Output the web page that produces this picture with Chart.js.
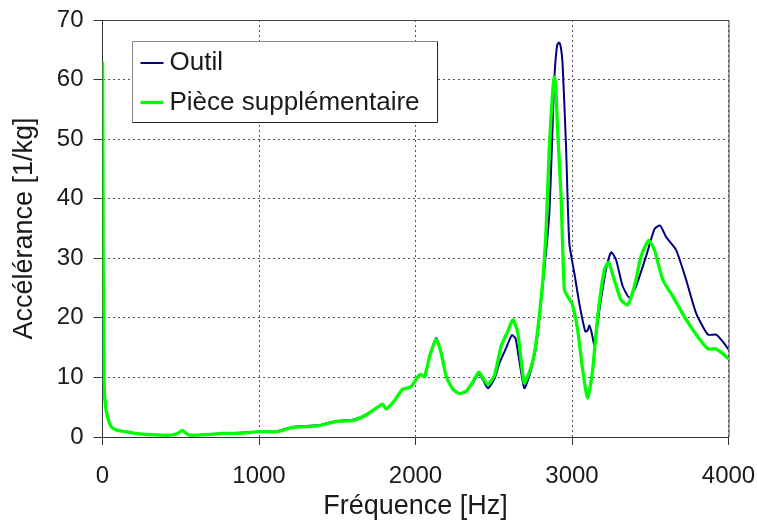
<!DOCTYPE html>
<html>
<head>
<meta charset="utf-8">
<script src="https://cdn.jsdelivr.net/npm/chart.js@4/dist/chart.umd.min.js"></script>
<style>
  html, body { margin: 0; padding: 0; background: #fff; }
  #wrap { width: 757px; height: 523px; }
</style>
</head>
<body>
<div id="wrap"><canvas id="chart"></canvas></div>
<script>
// Fréquence [Hz] / accélérance [1/kg] pour les deux montages
const outilFreq = [0, 4, 10, 20, 32, 50, 64, 96, 150, 213, 300, 430, 480, 511, 535, 554, 660, 767, 873, 1000, 1120, 1215, 1385, 1490, 1600, 1685, 1768, 1790, 1812, 1853, 1876, 1917, 1970, 2002, 2024, 2040, 2058, 2090, 2132, 2164, 2196, 2239, 2281, 2324, 2367, 2405, 2431, 2463, 2505, 2535, 2580, 2616, 2640, 2695, 2730, 2770, 2812, 2855, 2887, 2905, 2919, 2930, 2940, 2962, 2983, 3015, 3047, 3085, 3100, 3111, 3125, 3143, 3175, 3217, 3250, 3281, 3324, 3367, 3409, 3473, 3527, 3563, 3601, 3665, 3729, 3793, 3868, 3921, 3964, 4000];
const outilValues = [20.5, 12, 8, 5, 3.4, 2.0, 1.5, 1.1, 0.9, 0.6, 0.4, 0.3, 0.6, 1.1, 0.6, 0.3, 0.4, 0.6, 0.7, 0.9, 1.0, 1.7, 2.0, 2.7, 2.9, 3.8, 5.2, 5.5, 4.7, 5.7, 6.5, 8.0, 8.4, 9.6, 10.4, 10.4, 10.1, 13.5, 16.6, 14.2, 10.2, 8.0, 7.3, 7.6, 9.1, 10.6, 9.6, 8.2, 9.8, 12.3, 15.0, 17.1, 16.5, 8.2, 10.5, 15.1, 25.1, 37.5, 60.0, 65.8, 66.2, 65.2, 62.6, 48.7, 32.5, 27.5, 22.4, 17.7, 17.9, 18.7, 17.6, 15.5, 21.3, 28.1, 31.0, 29.8, 25.3, 23.4, 25.3, 30.3, 34.9, 35.5, 33.6, 31.4, 26.4, 20.8, 17.2, 17.2, 16.0, 14.7];

const pieceFreq = [0, 3, 6, 10, 20, 32, 50, 64, 96, 150, 213, 300, 430, 480, 511, 535, 554, 660, 767, 873, 1000, 1120, 1215, 1385, 1490, 1600, 1685, 1768, 1790, 1812, 1853, 1876, 1917, 1970, 2002, 2024, 2040, 2058, 2090, 2132, 2164, 2196, 2239, 2281, 2324, 2367, 2405, 2431, 2463, 2505, 2548, 2591, 2623, 2655, 2695, 2740, 2770, 2812, 2835, 2855, 2875, 2887, 2897, 2908, 2930, 2951, 2972, 3000, 3036, 3068, 3100, 3132, 3164, 3207, 3234, 3270, 3313, 3356, 3399, 3441, 3490, 3527, 3580, 3644, 3718, 3793, 3868, 3917, 3964, 4000];
const pieceValues = [63, 44.5, 20, 9, 5, 3.4, 2.0, 1.5, 1.1, 0.9, 0.6, 0.4, 0.3, 0.6, 1.1, 0.6, 0.3, 0.4, 0.6, 0.6, 0.9, 0.9, 1.6, 1.9, 2.6, 2.8, 3.7, 5.2, 5.5, 4.7, 5.7, 6.5, 8.0, 8.4, 9.6, 10.4, 10.4, 10.1, 13.5, 16.4, 14.1, 10.2, 8.0, 7.3, 7.7, 9.3, 10.9, 9.9, 8.8, 10.4, 15.3, 17.8, 19.7, 17.3, 9.1, 11.9, 15.8, 25.9, 35.2, 48.7, 57.4, 60.4, 58.4, 51.5, 40.4, 24.8, 23.6, 22.4, 18.0, 11.3, 6.5, 11.3, 20.2, 28.1, 29.3, 26.4, 23.0, 22.2, 25.3, 30.3, 33.0, 31.4, 26.4, 23.6, 20.2, 17.2, 14.8, 14.8, 14.0, 13.1];

const xTicks = [0, 1000, 2000, 3000, 4000];
const yTicks = [0, 10, 20, 30, 40, 50, 60, 70];

const toPoints = (fx, vals) => fx.map((f, i) => ({ x: f, y: vals[i] }));

const TEXT = '#1a1a1a';
const FONT = '"Liberation Sans", Arial, sans-serif';

// cadre du graphe + légende encadrée à l'intérieur de la zone de tracé
const framePlugin = {
    id: 'frameAndLegend',
    beforeDatasetsDraw(chart) {
        const { ctx, chartArea: ca } = chart;
        ctx.save();
        ctx.strokeStyle = '#444';
        ctx.lineWidth = 1;
        ctx.beginPath();
        ctx.moveTo(ca.left, ca.top + 0.5);
        ctx.lineTo(ca.right + 0.5, ca.top + 0.5);
        ctx.lineTo(ca.right + 0.5, ca.bottom);
        ctx.stroke();
        ctx.restore();
    },
    afterDatasetsDraw(chart) {
        const { ctx, chartArea: ca } = chart;
        const sets = chart.data.datasets;
        ctx.save();
        ctx.font = '26px ' + FONT;
        const textW = Math.max(...sets.map(d => ctx.measureText(d.label).width));
        const left = Math.round(ca.left + 29) + 0.5;
        const top = Math.round(ca.top + 21) + 0.5;
        const rowH = 39.5;
        const w = 37 + textW + 18;
        const h = 81;
        ctx.fillStyle = '#fff';
        ctx.fillRect(left, top, w, h);
        ctx.lineWidth = 1;
        ctx.strokeStyle = '#888';
        ctx.beginPath();
        ctx.moveTo(left, top + h);
        ctx.lineTo(left, top);
        ctx.lineTo(left + w, top);
        ctx.stroke();
        ctx.strokeStyle = '#222';
        ctx.beginPath();
        ctx.moveTo(left + w, top);
        ctx.lineTo(left + w, top + h);
        ctx.lineTo(left, top + h);
        ctx.stroke();
        sets.forEach((d, i) => {
            const cy = top + 21.5 + i * rowH;
            ctx.strokeStyle = d.borderColor;
            ctx.lineWidth = d.borderWidth;
            ctx.beginPath();
            ctx.moveTo(left + 8, cy);
            ctx.lineTo(left + 31, cy);
            ctx.stroke();
            ctx.fillStyle = TEXT;
            ctx.textBaseline = 'middle';
            ctx.textAlign = 'left';
            ctx.fillText(d.label, left + 37, cy);
        });
        ctx.restore();
    }
};

new Chart(document.getElementById('chart'), {
    type: 'line',
    data: {
        datasets: [
            {
                label: 'Outil',
                data: toPoints(outilFreq, outilValues),
                borderColor: '#000080',
                borderWidth: 2,
                pointRadius: 0,
                tension: 0.2,
                order: 1
            },
            {
                label: 'Pièce supplémentaire',
                data: toPoints(pieceFreq, pieceValues),
                borderColor: '#00ff00',
                borderWidth: 3.3,
                pointRadius: 0,
                tension: 0.2,
                order: 0
            }
        ]
    },
    options: {
        responsive: true,
        maintainAspectRatio: false,
        animation: false,
        layout: { padding: 0 },
        scales: {
            x: {
                type: 'linear',
                min: 0,
                max: 4000,
                afterFit(scale) {
                    scale.height = 86;
                    scale.paddingRight = 28.5;
                },
                afterBuildTicks(scale) { scale.ticks = xTicks.map(v => ({ value: v })); },
                grid: { color: '#555', tickColor: '#333', tickLength: 8, lineWidth: 1 },
                border: { color: '#333', width: 1, dash: [2, 3] },
                ticks: {
                    font: { size: 24, family: FONT },
                    color: TEXT,
                    padding: 17,
                    maxRotation: 0,
                    callback: v => String(v)
                },
                title: {
                    display: true,
                    text: 'Fréquence [Hz]',
                    color: TEXT,
                    font: { size: 27, family: FONT },
                    padding: { top: 0, bottom: 0 }
                }
            },
            y: {
                min: 0,
                max: 70,
                afterFit(scale) {
                    scale.width = 102.5;
                    scale.paddingTop = 20;
                    scale.paddingBottom = 0;
                },
                afterBuildTicks(scale) { scale.ticks = yTicks.map(v => ({ value: v })); },
                grid: { color: '#555', tickColor: '#333', tickLength: 9, lineWidth: 1 },
                border: { color: '#333', width: 1, dash: [2, 3] },
                ticks: {
                    font: { size: 24, family: FONT },
                    color: TEXT,
                    padding: 10,
                    callback: v => String(v)
                },
                title: {
                    display: true,
                    text: 'Accélérance [1/kg]',
                    color: TEXT,
                    font: { size: 27, family: FONT },
                    padding: { top: 8, bottom: 0 }
                }
            }
        },
        plugins: {
            legend: { display: false },
            tooltip: { enabled: false }
        }
    },
    plugins: [framePlugin]
});
</script>
</body>
</html>
